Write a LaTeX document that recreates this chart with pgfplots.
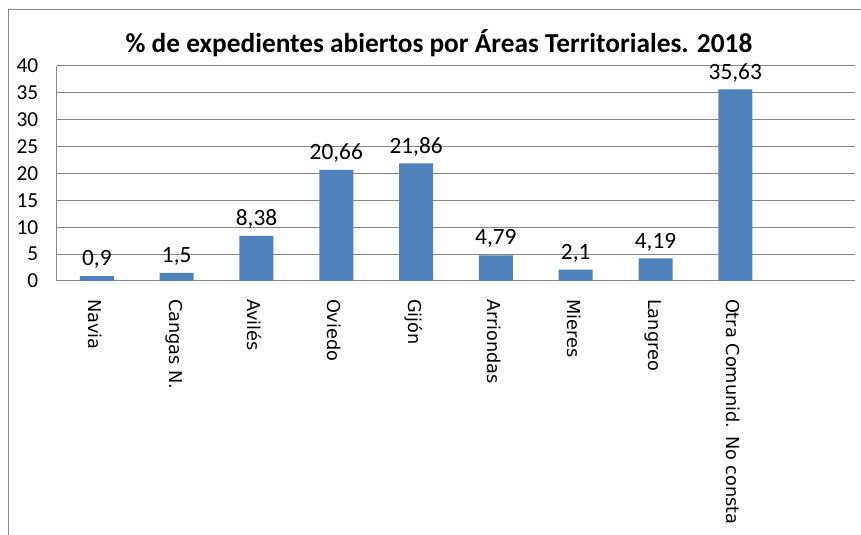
\documentclass[border=0pt]{standalone}
\usepackage{pgfplots}
\pgfplotsset{compat=1.18}
\usepackage{fontspec}
\setmainfont{Carlito}
\newfontfamily\labfont{DejaVu Sans}
\definecolor{barblue}{HTML}{4F81BD}
\definecolor{gridgray}{HTML}{868686}
\begin{document}
\begin{tikzpicture}
\useasboundingbox (0pt,0pt) rectangle (645.75pt,401.25pt);
\draw[gridgray, line width=0.75pt] (6pt,0pt) -- (6pt,393.75pt) -- (645.75pt,393.75pt);
\node[font=\bfseries\fontsize{20.5}{22}\selectfont] at (329.25pt,369pt) {\% de expedientes abiertos por Áreas Territoriales. 2018};
\begin{axis}[at={(42.75pt,190.5pt)}, anchor=south west, scale only axis,
  width=598.5pt, height=161.25pt,
  xmin=-0.5, xmax=9.5, ymin=0, ymax=40,
  ytick={0,5,...,40}, xtick={0,...,8},
  xticklabels={Navia,Cangas N.,Avilés,Oviedo,Gijón,Arriondas,Mieres,Langreo,Otra Comunid. No consta},
  ymajorgrids, grid style={gridgray, line width=0.75pt},
  axis lines*=left,
  axis line style={gridgray, line width=0.75pt, -},
  major tick length=0pt,
  /pgf/number format/assume math mode=true,
  /pgf/number format/use comma,
  yticklabel style={font=\fontsize{16}{18}\selectfont, xshift=-10.5pt},
  xticklabel style={font=\labfont\fontsize{13.3}{15}\selectfont, yshift=-10pt, xshift=-1.5pt, rotate=-90, anchor=west},
  ybar, bar width=25.5pt,
  nodes near coords,
  every node near coord/.append style={font=\fontsize{17.5}{19}\selectfont, black, yshift=2pt},
]
\addplot[fill=barblue, draw=none] coordinates {(0,0.9) (1,1.5) (2,8.38) (3,20.66) (4,21.86) (5,4.79) (6,2.1) (7,4.19) (8,35.63)};
\end{axis}
\end{tikzpicture}
\end{document}
